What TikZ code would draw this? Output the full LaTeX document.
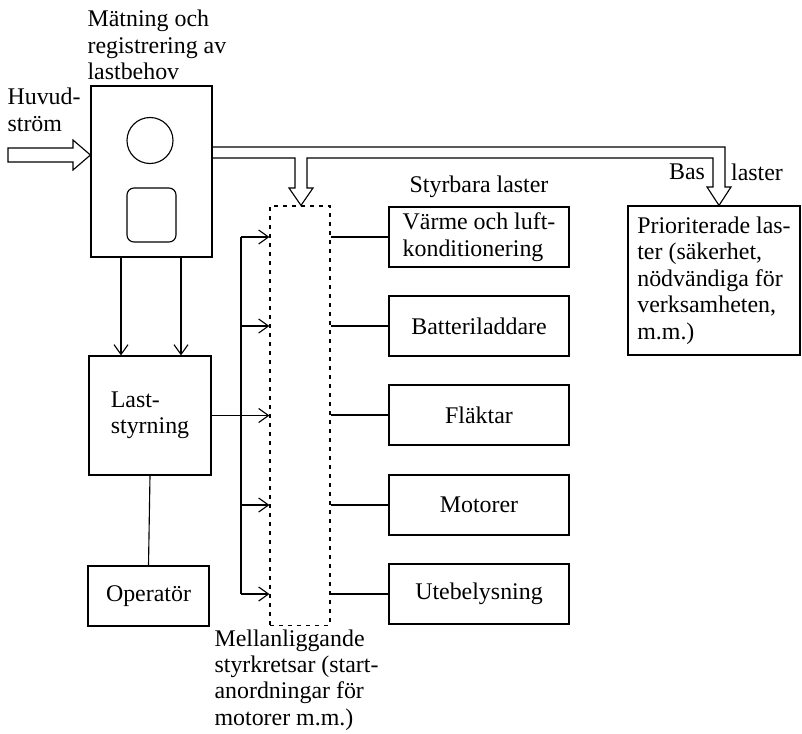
\documentclass[tikz,border=0pt]{standalone}
\usepackage{fontspec}
\setmainfont{Liberation Serif}
\usetikzlibrary{arrows.meta,positioning}

\begin{document}
\begin{tikzpicture}[x=0.025cm,y=-0.025cm,line width=0.8pt,
  every node/.style={font=\fontsize{17}{18.8}\selectfont},
  box/.style={draw,inner sep=0pt,align=left},
  txt/.style={inner sep=0pt,align=left},
  loadbox/.style={box,minimum width=4.5cm,minimum height=1.5cm},
  arr/.style={-{Straight Barb[length=7pt,width=10pt]}}]
\useasboundingbox (0,0) rectangle (802,733);
\node[box,minimum width=3.025cm,minimum height=4.275cm] (meter) at (151.5,171.5) {};
\node[draw,circle,inner sep=0pt,minimum size=1.15cm] (dial) at (150,140.5) {};
\node[draw,rounded corners=5pt,minimum width=1.225cm,minimum height=1.35cm] (disp) at (151.5,215) {};
\node[txt,anchor=west] (title) at (87,45) {Mätning och\\registrering av\\lastbehov};
\node[txt,anchor=west] (main) at (7,110) {Huvud-\\ström};
\node[box,minimum width=3.05cm,minimum height=2.975cm] (last) at (150,415.5) {Last-\\styrning};
\node[box,minimum width=3.025cm,minimum height=1.5cm] (oper) at (148.5,596) {Operatör};
\node[draw,dash pattern=on 2.8pt off 3.6pt,minimum width=1.5cm,minimum height=10.475cm] (ctl) at (300,415.5) {};
\node[txt,anchor=west] (ctltxt) at (214,680) {Mellanliggande\\styrkretsar (start-\\anordningar för\\motorer m.m.)};
\foreach \n/\y/\t in {varme/237/{Värme och luft-\\konditionering}, batt/326/Batteriladdare,
    flakt/415/Fläktar, motor/505/Motorer, ute/594/Utebelysning}
    \node[loadbox] (\n) at (479,\y) {\t};
\node[txt,above=0.2cm of varme] (styr) {Styrbara laster};
\node[box,minimum width=4.3cm,minimum height=3.725cm] (prio) at (714,280.5)
    {Prioriterade las-\\ter (säkerhet,\\nödvändiga för\\verksamheten,\\m.m.)};
\node[txt] (bas) at (687,172) {Bas};
\node[txt] (baslast) at (757,172) {laster};
\coordinate (in) at (8,155);
\draw (in) ++(0,-7) -- (73,148) -- (73,140) -- (meter.west |- in) -- (73,170) -- (73,162) -- (8,162) -- cycle;
\draw (meter.east |- 0,158) -- (295,158) -- (295,188) -- (289,188) -- (ctl.north -| 301,0) -- (313,188)
    -- (307,188) -- (307,158) -- (713,158) -- (713,187) -- (707,187) -- (prio.north -| 719,0)
    -- (731,187) -- (725,187) -- (725,147) -- (meter.east |- 0,147);
\foreach \x in {121,181} {
    \coordinate (t) at (\x,0);
    \draw[arr] (meter.south -| t) -- (last.north -| t);
}
\draw (last.south) -- (oper.north);
\coordinate (bus) at (241,0);
\draw (bus |- varme.west) -- (bus |- ute.west);
\foreach \n in {varme,batt,motor,ute}
    \draw[arr] (bus |- \n.west) -- (ctl.west |- \n.west);
\draw[arr] (last.east) -- (ctl.west |- last.east);
\foreach \n in {varme,batt,flakt,motor,ute}
    \draw (ctl.east |- \n.west) -- (\n.west);
\end{tikzpicture}
\end{document}
